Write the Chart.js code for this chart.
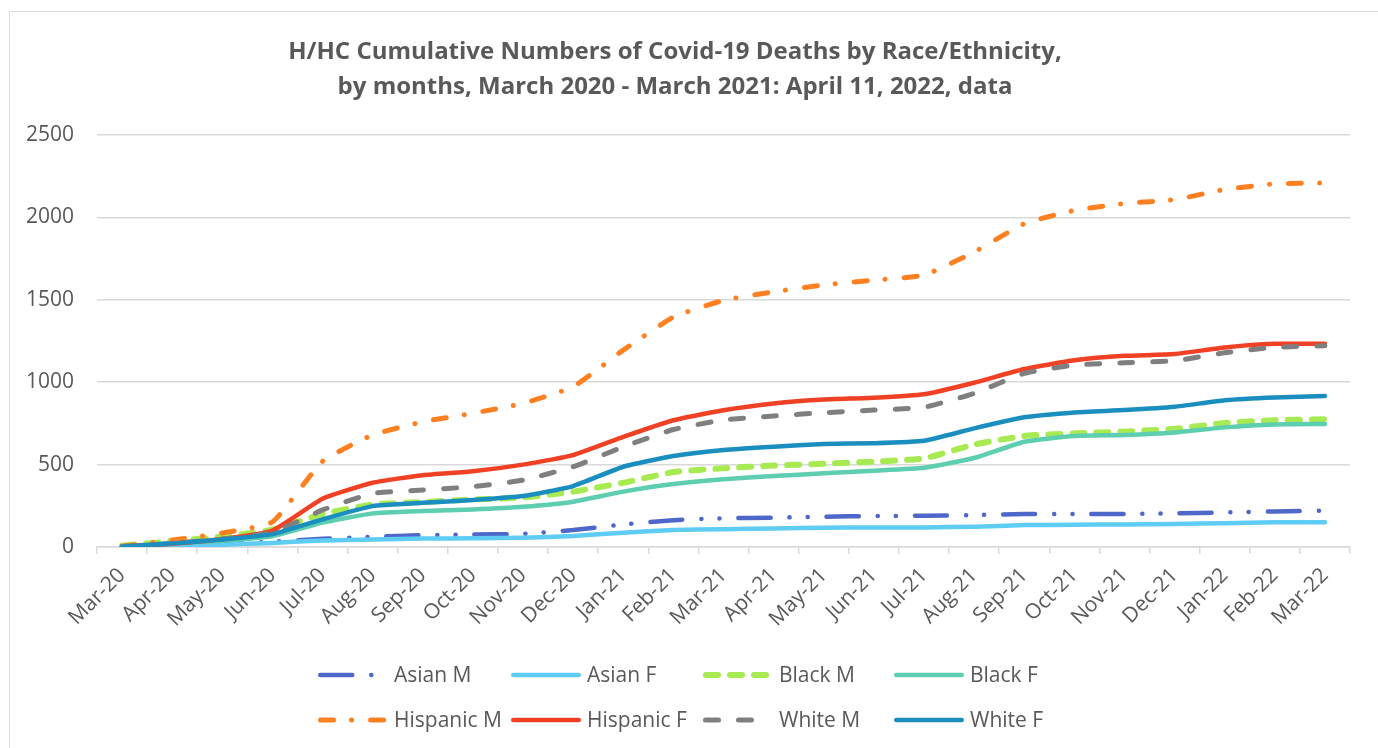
<!DOCTYPE html>
<html><head><meta charset="utf-8">
<script src="https://cdn.jsdelivr.net/npm/chart.js@4.4.1/dist/chart.umd.min.js"></script>
<style>
html,body{margin:0;padding:0;background:#fff;overflow:hidden;}
#wrap{position:absolute;left:0;top:0;width:1378px;height:748px;}
#frame{position:absolute;left:9px;top:11px;width:1400px;height:800px;border:1px solid #d9d9d9;box-sizing:border-box;}
canvas{position:absolute;left:0;top:0;}
</style></head><body>
<div id="wrap"><div id="frame"></div><canvas id="c" width="1378" height="748"></canvas></div>
<script>
const months = ['Mar-20','Apr-20','May-20','Jun-20','Jul-20','Aug-20','Sep-20','Oct-20','Nov-20','Dec-20','Jan-21','Feb-21','Mar-21','Apr-21','May-21','Jun-21','Jul-21','Aug-21','Sep-21','Oct-21','Nov-21','Dec-21','Jan-22','Feb-22','Mar-22'];
const asianM = [2, 8, 18, 32, 50, 62, 72, 76, 80, 103, 137, 163, 174, 178, 184, 188, 190, 194, 200, 200, 200, 204, 210, 216, 220];
const asianF = [1, 6, 14, 25, 40, 45, 51, 53, 56, 67, 87, 103, 108, 113, 117, 119, 119, 123, 133, 135, 137, 140, 144, 150, 150];
const blackM = [8, 36, 63, 105, 200, 258, 273, 288, 300, 336, 390, 455, 478, 494, 505, 518, 538, 622, 674, 690, 700, 718, 752, 770, 775];
const blackF = [3, 22, 38, 65, 148, 204, 218, 228, 244, 275, 336, 382, 411, 431, 447, 463, 481, 540, 639, 674, 680, 695, 726, 744, 746];
const hispanicM = [5, 42, 85, 152, 520, 680, 760, 812, 872, 973, 1195, 1395, 1497, 1549, 1590, 1620, 1650, 1790, 1962, 2043, 2085, 2108, 2170, 2204, 2210];
const hispanicF = [3, 20, 48, 100, 293, 390, 436, 460, 500, 558, 668, 769, 830, 871, 895, 906, 927, 997, 1080, 1133, 1160, 1171, 1211, 1233, 1234];
const whiteM = [3, 22, 48, 87, 225, 325, 346, 366, 406, 487, 608, 713, 771, 795, 815, 831, 848, 932, 1054, 1104, 1118, 1130, 1179, 1212, 1222];
const whiteF = [2, 22, 45, 78, 168, 248, 268, 285, 309, 370, 487, 552, 589, 609, 625, 630, 645, 720, 787, 817, 831, 851, 891, 908, 916];
const yTicks = [0, 500, 1000, 1500, 2000, 2500];
const titleLines = ['H/HC Cumulative Numbers of Covid-19 Deaths by Race/Ethnicity,', 'by months, March 2020 - March 2021: April 11, 2022, data'];

const FONT = "'Open Sans', sans-serif";
const TXT = '#595959';
const GRID = '#d9d9d9';

function series(label, data, color, width, dash) {
  return { label, data, borderColor: color, backgroundColor: color, borderWidth: width,
    borderDash: dash, borderCapStyle: 'round', borderJoinStyle: 'round', fill: false, pointRadius: 0 };
}
const datasets = [
  series('Asian M', asianM, '#4E67C8', 4.5, [32, 19, 0.1, 18, 0.1, 19]),
  series('Asian F', asianF, '#5ECCF3', 4.5, []),
  series('Black M', blackM, '#A7EA52', 6, [12, 12]),
  series('Black F', blackF, '#5DCEAF', 4.5, []),
  series('Hispanic M', hispanicM, '#FF8021', 5, [13, 18, 0.1, 19]),
  series('Hispanic F', hispanicF, '#F14124', 4.5, []),
  series('White M', whiteM, '#7F7F7F', 5, [13, 20]),
  series('White F', whiteF, '#1B8EC0', 4.5, [])
];
datasets.forEach((d, i) => { d.order = datasets.length - 1 - i; });

const gridLegend = {
  id: 'gridLegend',
  afterDraw(chart) {
    const ctx = chart.ctx;
    const cols = [318, 511, 703, 894];
    const rows = [675, 720];
    const sampleLen = 70;
    chart.data.datasets.forEach((ds, i) => {
      const x = cols[i % 4], y = rows[Math.floor(i / 4)];
      ctx.save();
      ctx.strokeStyle = ds.borderColor;
      ctx.lineWidth = ds.borderWidth;
      ctx.lineCap = 'round';
      ctx.setLineDash(ds.borderDash || []);
      const cap = ds.borderWidth / 2;
      ctx.beginPath(); ctx.moveTo(x + cap, y); ctx.lineTo(x + sampleLen - cap, y); ctx.stroke();
      ctx.setLineDash([]);
      ctx.fillStyle = TXT;
      ctx.font = '21px ' + FONT;
      ctx.textBaseline = 'middle';
      ctx.textAlign = 'left';
      ctx.fillText(ds.label, x + sampleLen + 6, y + 1);
      ctx.restore();
    });
  }
};

new Chart(document.getElementById('c'), {
  type: 'line',
  data: { labels: months, datasets },
  plugins: [gridLegend],
  options: {
    responsive: false,
    animation: false,
    devicePixelRatio: 1,
    layout: { padding: { left: 0, right: 28, top: 0, bottom: 101 } },
    elements: { line: { tension: 0.15 }, point: { radius: 0 } },
    plugins: {
      legend: { display: false },
      tooltip: { enabled: false },
      title: {
        display: true, text: titleLines, color: TXT,
        font: { family: FONT, size: 24, weight: 'bold', lineHeight: 1.46 },
        padding: { top: 35, bottom: 30 }
      }
    },
    scales: {
      x: {
        offset: true,
        grid: { offset: true, drawOnChartArea: false, color: GRID, tickLength: 7, lineWidth: 1.5 },
        border: { color: GRID, width: 1.5 },
        ticks: { color: TXT, font: { family: FONT, size: 21 }, minRotation: 45, maxRotation: 45, autoSkip: false, padding: 9 },
        afterFit: s => { s.height = 100; }
      },
      y: {
        min: 0, max: 2500,
        afterBuildTicks: s => { s.ticks = yTicks.map(v => ({ value: v })); },
        ticks: { color: TXT, font: { family: FONT, size: 21 }, padding: 23, callback: v => String(v) },
        grid: { color: GRID, lineWidth: 1.5, drawTicks: false },
        border: { display: false },
        afterFit: s => { s.width = 97; }
      }
    }
  }
});
</script>
</body></html>
